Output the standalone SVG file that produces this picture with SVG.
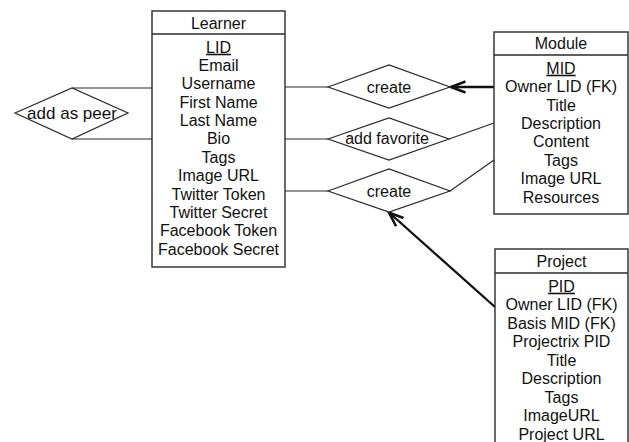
<svg xmlns="http://www.w3.org/2000/svg" width="629" height="442" viewBox="0 0 629 442">
  <style>
    .box { fill: #fff; stroke: #2a2a2a; stroke-width: 1.4; }
    .sep { stroke: #2a2a2a; stroke-width: 1.4; }
    .rel { fill: #fff; stroke: #2a2a2a; stroke-width: 1.2; }
    .link { fill: none; stroke: #2a2a2a; stroke-width: 1.2; }
    .owner { fill: none; stroke: #111; stroke-width: 2.3; }
    text { font-family: "Liberation Sans", Arial, sans-serif; font-size: 16px; fill: #111; text-anchor: middle; }
    .key { text-decoration: underline; }
  </style>
  <defs>
    <marker id="chev" markerUnits="userSpaceOnUse" markerWidth="20" markerHeight="20" viewBox="-15 -8 18 16" refX="0" refY="0" orient="auto">
      <path d="M-13,-5 L0,0 L-13,5" fill="none" stroke="#111" stroke-width="2.3"/>
    </marker>
  </defs>

  <rect width="629" height="442" fill="#fff"/>

  <g id="connectors">
    <!-- add as peer to Learner -->
    <line class="link" x1="72" y1="88" x2="152" y2="88"/>
    <line class="link" x1="72" y1="139" x2="152" y2="139"/>
    <!-- Learner to relationships -->
    <line class="link" x1="285" y1="87" x2="328" y2="87"/>
    <line class="link" x1="285" y1="139" x2="328" y2="139"/>
    <line class="link" x1="285" y1="191" x2="328" y2="191"/>
    <!-- relationships to Module -->
    <line class="link" x1="449" y1="139" x2="494" y2="123"/>
    <line class="link" x1="450" y1="191" x2="494" y2="160"/>
    <!-- ownership arrows -->
    <line class="owner" x1="494" y1="87" x2="451" y2="87" marker-end="url(#chev)"/>
    <line class="owner" x1="495" y1="307" x2="389" y2="212.5" marker-end="url(#chev)"/>
  </g>

  <g id="rel-add-as-peer">
    <polygon class="rel" points="15,113 72,88 128,113 72,139"/>
    <text x="72" y="119" style="font-size:17px">add as peer</text>
  </g>

  <g id="rel-create-module">
    <polygon class="rel" points="328,87 389,65 450,87 389,108"/>
    <text x="389" y="92.5">create</text>
  </g>

  <g id="rel-add-favorite">
    <polygon class="rel" points="328,139 389,118 449,139 389,160"/>
    <text x="387" y="144">add favorite</text>
  </g>

  <g id="rel-create-project">
    <polygon class="rel" points="328,191 389,169 450,191 389,212"/>
    <text x="389" y="196.5">create</text>
  </g>

  <g id="learner">
    <rect class="box" x="152" y="11" width="133" height="256"/>
    <line class="sep" x1="152" y1="34" x2="285" y2="34"/>
    <text x="218.5" y="28.5">Learner</text>
    <text x="218.5" y="52.7" class="key">LID</text>
    <text x="218.5" y="71.05">Email</text>
    <text x="218.5" y="89.4">Username</text>
    <text x="218.5" y="107.75">First Name</text>
    <text x="218.5" y="126.1">Last Name</text>
    <text x="218.5" y="144.45">Bio</text>
    <text x="218.5" y="162.8">Tags</text>
    <text x="218.5" y="181.15">Image URL</text>
    <text x="218.5" y="199.5">Twitter Token</text>
    <text x="218.5" y="217.85">Twitter Secret</text>
    <text x="218.5" y="236.2">Facebook Token</text>
    <text x="218.5" y="254.55">Facebook Secret</text>
  </g>

  <g id="module">
    <rect class="box" x="494" y="32" width="134" height="182"/>
    <line class="sep" x1="494" y1="55" x2="628" y2="55"/>
    <text x="561" y="49">Module</text>
    <text x="561" y="73.7" class="key">MID</text>
    <text x="561" y="92.1">Owner LID (FK)</text>
    <text x="561" y="110.5">Title</text>
    <text x="561" y="128.9">Description</text>
    <text x="561" y="147.3">Content</text>
    <text x="561" y="165.7">Tags</text>
    <text x="561" y="184.1">Image URL</text>
    <text x="561" y="202.5">Resources</text>
  </g>

  <g id="project">
    <rect class="box" x="495" y="249" width="133" height="200"/>
    <line class="sep" x1="495" y1="273" x2="628" y2="273"/>
    <text x="561.5" y="267">Project</text>
    <text x="561.5" y="291.7" class="key">PID</text>
    <text x="561.5" y="310.2">Owner LID (FK)</text>
    <text x="561.5" y="328.7">Basis MID (FK)</text>
    <text x="561.5" y="347.2">Projectrix PID</text>
    <text x="561.5" y="365.7">Title</text>
    <text x="561.5" y="384.2">Description</text>
    <text x="561.5" y="402.7">Tags</text>
    <text x="561.5" y="421.2">ImageURL</text>
    <text x="561.5" y="439.7">Project URL</text>
  </g>
</svg>
